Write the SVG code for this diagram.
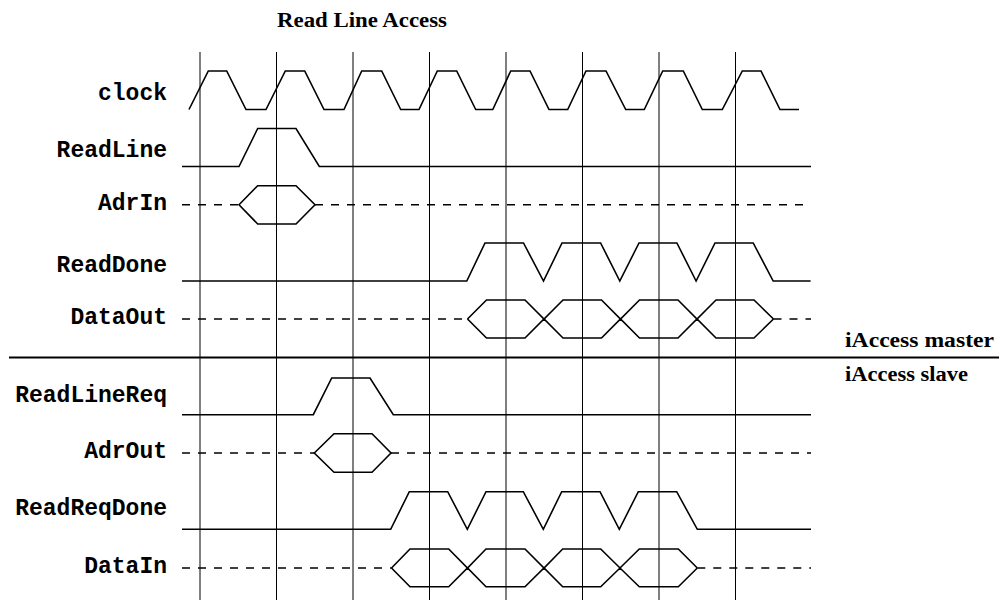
<svg xmlns="http://www.w3.org/2000/svg" width="999" height="600" viewBox="0 0 999 600">
<style>
.sig{fill:none;stroke:#000;stroke-width:1.6;stroke-linejoin:miter}
.dash{fill:none;stroke:#000;stroke-width:1.6;stroke-dasharray:8 8}
.grid{stroke:#000;stroke-width:1}
.lbl{font-family:"Liberation Mono","Courier New",monospace;font-weight:bold;font-size:23px;text-anchor:end;fill:#000}
.ttl{font-family:"Liberation Serif","Times New Roman",serif;font-weight:bold;font-size:20px;fill:#000}
</style>
<rect width="999" height="600" fill="#fff"/>
<text class="ttl" x="277" y="27" textLength="170" lengthAdjust="spacingAndGlyphs">Read Line Access</text>
<g id="grid">
<line class="grid" x1="200" y1="52" x2="200" y2="600"/>
<line class="grid" x1="276.5" y1="52" x2="276.5" y2="600"/>
<line class="grid" x1="353" y1="52" x2="353" y2="600"/>
<line class="grid" x1="429.5" y1="52" x2="429.5" y2="600"/>
<line class="grid" x1="506" y1="52" x2="506" y2="600"/>
<line class="grid" x1="582.5" y1="52" x2="582.5" y2="600"/>
<line class="grid" x1="659" y1="52" x2="659" y2="600"/>
<line class="grid" x1="735.5" y1="52" x2="735.5" y2="600"/>
</g>
<g id="clock">
<text class="lbl" x="167" y="100">clock</text>
<path class="sig" d="M189,109.5 L208.3,71 L226.7,71 L246,109.5 L266,109.5 L285.3,71 L304.7,71 L324,109.5 L344,109.5 L361.7,71 L381.7,71 L400.7,109.5 L419,109.5 L437.3,71 L456.7,71 L475.7,109.5 L492.8,109.5 L510.7,71 L530,71 L549,109.5 L567.7,109.5 L586,71 L606,71 L625.7,109.5 L644.3,109.5 L662.7,71 L683.3,71 L702.3,109.5 L722.3,109.5 L742.3,71 L761,71 L780,109.5 L799,109.5"/>
</g>
<g id="ReadLine">
<text class="lbl" x="167" y="157">ReadLine</text>
<path class="sig" d="M182,166.5 L239,166.5 L257.7,128.5 L296,128.5 L319.3,166.5 L811,166.5"/>
</g>
<g id="AdrIn">
<text class="lbl" x="167" y="210">AdrIn</text>
<line class="dash" x1="182" y1="204.8" x2="239" y2="204.8"/>
<path class="sig" d="M239,204.8 L257.7,185.7 L296,185.7 L315,204.8 L296,224 L257.7,224 Z"/>
<line class="dash" x1="315" y1="204.8" x2="811" y2="204.8"/>
</g>
<g id="ReadDone">
<text class="lbl" x="167" y="272">ReadDone</text>
<path class="sig" d="M182,281 L466.8,281 L485,243 L523.5,243 L543.5,281 L562,243 L600.6,243 L619.8,281 L639,243 L676.9,243 L696.1,281 L715,243 L753.2,243 L773.2,281 L810.6,281"/>
</g>
<g id="DataOut">
<text class="lbl" x="167" y="323.5">DataOut</text>
<line class="dash" x1="182" y1="319" x2="467.5" y2="319"/>
<path class="sig" d="M467.5,319 L486.5,300 L525,300 L544,319 L563,300 L601.5,300 L620.5,319 L639.5,300 L678,300 L697,319 L716,300 L754,300 L773.5,319"/>
<path class="sig" d="M467.5,319 L486.5,338 L525,338 L544,319 L563,338 L601.5,338 L620.5,319 L639.5,338 L678,338 L697,319 L716,338 L754,338 L773.5,319"/>
<line class="dash" x1="773.5" y1="319" x2="811" y2="319"/>
</g>
<g id="separator">
<line x1="9" y1="357.5" x2="999" y2="357.5" stroke="#000" stroke-width="2"/>
<text class="ttl" x="845" y="347" textLength="149" lengthAdjust="spacingAndGlyphs">iAccess master</text>
<text class="ttl" x="845" y="381" textLength="123" lengthAdjust="spacingAndGlyphs">iAccess slave</text>
</g>
<g id="ReadLineReq">
<text class="lbl" x="167" y="401.7">ReadLineReq</text>
<path class="sig" d="M182,414.7 L313.3,414.7 L331.7,378 L370,378 L393.3,414.7 L811,414.7"/>
</g>
<g id="AdrOut">
<text class="lbl" x="167" y="458.3">AdrOut</text>
<line class="dash" x1="182" y1="453" x2="314.3" y2="453"/>
<path class="sig" d="M314.3,453 L334,433.7 L372,433.7 L391,453 L372,472.3 L334,472.3 Z"/>
<line class="dash" x1="391" y1="453" x2="811" y2="453"/>
</g>
<g id="ReadReqDone">
<text class="lbl" x="167" y="515">ReadReqDone</text>
<path class="sig" d="M182,529.3 L390.7,529.3 L409.3,491.7 L447.7,491.7 L467.3,529.3 L486,491.7 L523.3,491.7 L543.3,529.3 L561.7,491.7 L600,491.7 L619.3,529.3 L638.3,491.7 L676.7,491.7 L697.3,529.3 L811,529.3"/>
</g>
<g id="DataIn">
<text class="lbl" x="167" y="572.7">DataIn</text>
<line class="dash" x1="182" y1="568" x2="391.5" y2="568"/>
<path class="sig" d="M391.5,568 L410,549 L448.7,549 L467.5,568 L486,549 L525,549 L544,568 L562.7,549 L600.7,549 L620,568 L639.3,549 L678.3,549 L697.3,568"/>
<path class="sig" d="M391.5,568 L410,586.7 L448.7,586.7 L467.5,568 L486,586.7 L525,586.7 L544,568 L562.7,586.7 L600.7,586.7 L620,568 L639.3,586.7 L678.3,586.7 L697.3,568"/>
<line class="dash" x1="697.3" y1="568" x2="811" y2="568"/>
</g>
</svg>
